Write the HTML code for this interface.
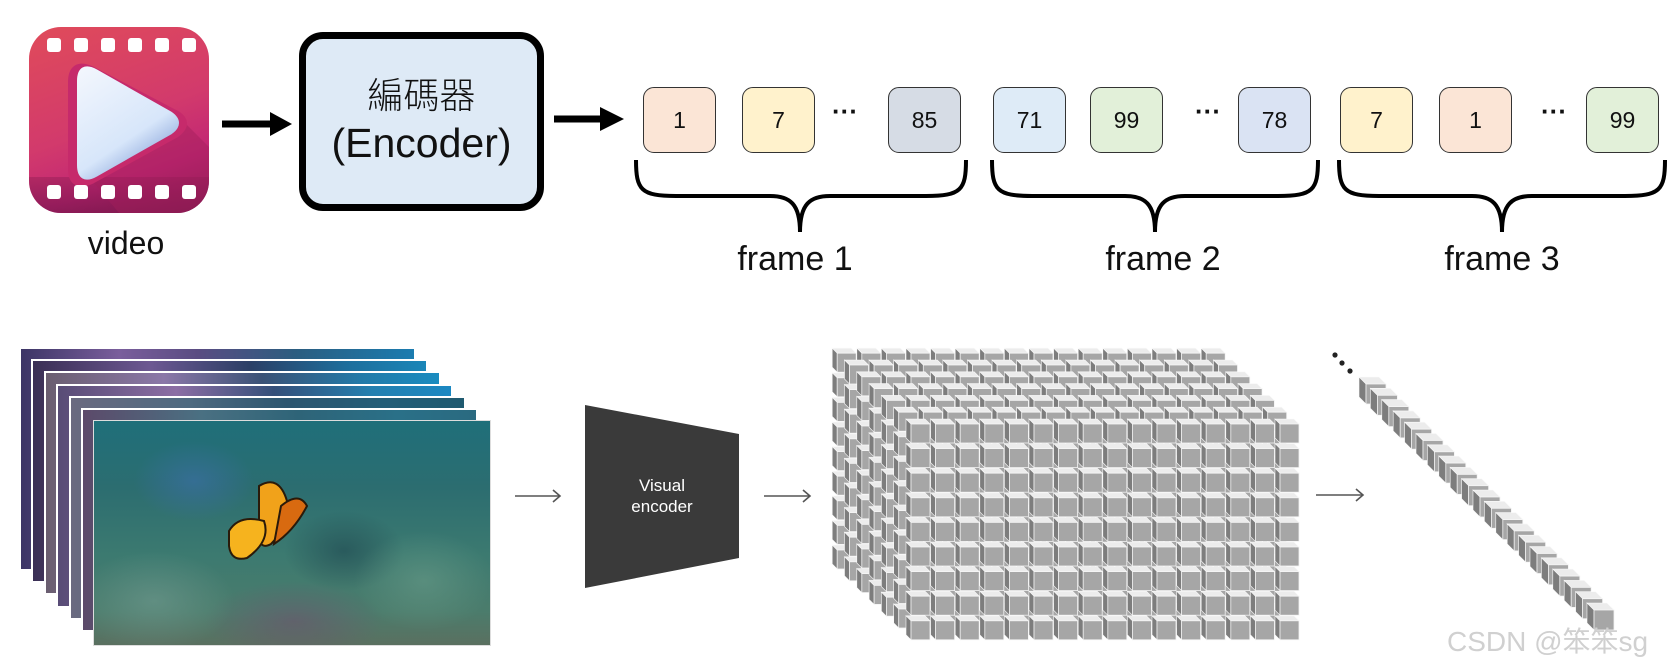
<!DOCTYPE html>
<html><head><meta charset="utf-8">
<style>
html,body{margin:0;padding:0;background:#fff;}
body{width:1669px;height:667px;position:relative;overflow:hidden;font-family:"Liberation Sans","Noto Sans CJK TC",sans-serif;}
.abs{position:absolute;}
.tok{position:absolute;top:87px;width:73px;height:66px;border:1.5px solid #333;border-radius:11px;box-sizing:border-box;font-size:23px;text-align:center;line-height:64px;color:#111;}
.dots{position:absolute;top:96px;font-size:26px;font-weight:bold;color:#111;}
.lbl{position:absolute;top:240px;font-size:34px;color:#111;width:200px;text-align:center;}
.fr{position:absolute;width:397px;height:224px;border:2px solid #fff;box-sizing:border-box;}
</style></head><body>

<div class="abs" style="left:29px;top:27px;width:180px;height:186px;border-radius:32px;overflow:hidden;background:linear-gradient(160deg,#e04b5a 0%,#d23a6c 50%,#c12674 75%,#8b1b55 100%);">
  <div class="abs" style="left:0;top:150px;width:180px;height:36px;background:linear-gradient(180deg,rgba(120,20,70,0.3),rgba(110,20,70,0.6));"></div>
  <svg class="abs" style="left:0;top:0" width="180" height="186">
    <path d="M60 45 L150 90 L180 120 L180 186 L90 186 L60 150 Z" fill="#a11f5c" opacity="0.45"/>
    <path d="M44 55 Q44 36 62 44 L146 88 Q160 96 146 106 L62 152 Q44 160 44 142 Z" fill="#c62a6b" stroke="#c62a6b" stroke-width="10" stroke-linejoin="round"/>
    <defs><linearGradient id="pg" x1="0" y1="0" x2="0.6" y2="1"><stop offset="0" stop-color="#f2f6fd"/><stop offset="0.7" stop-color="#d7e6fa"/><stop offset="1" stop-color="#8ea8dc"/></linearGradient></defs>
    <path d="M52 54 Q52 38 66 46 L140 88 Q152 96 140 104 L66 146 Q52 154 52 138 Z" fill="url(#pg)" stroke="url(#pg)" stroke-width="8" stroke-linejoin="round"/>
  </svg>
  <div class="abs" style="left:18px;top:11px;width:14px;height:14px;background:#fff;border-radius:3px;box-shadow:27px 0 #fff,54px 0 #fff,81px 0 #fff,108px 0 #fff,135px 0 #fff;"></div>
  <div class="abs" style="left:18px;top:158px;width:14px;height:14px;background:#fff;border-radius:3px;box-shadow:27px 0 #fff,54px 0 #fff,81px 0 #fff,108px 0 #fff,135px 0 #fff;"></div>
</div>
<div class="abs" style="left:60px;top:225px;width:132px;text-align:center;font-size:32px;color:#111;">video</div>

<div class="abs" style="left:299px;top:32px;width:245px;height:179px;border:7px solid #000;border-radius:24px;background:#deeaf6;box-sizing:border-box;text-align:center;color:#111;">
  <div style="font-size:36px;margin-top:34px;line-height:40px;font-family:'Noto Sans CJK TC',sans-serif;font-weight:300;">編碼器</div>
  <div style="font-size:41px;line-height:48px;margin-top:6px;">(Encoder)</div>
</div>

<svg class="abs" style="left:0;top:0" width="1669" height="300">
  <line x1="222" y1="124" x2="274" y2="124" stroke="#000" stroke-width="7"/>
  <polygon points="270,112 292,124 270,136" fill="#000"/>
  <line x1="554" y1="119" x2="604" y2="119" stroke="#000" stroke-width="7"/>
  <polygon points="600,107 624,119 600,131" fill="#000"/>
  <g fill="none" stroke="#000" stroke-width="4">
    <path d="M636 160 C636 190 641 196 676 196 L770 196 C790 196 800 204 800 232 C800 204 810 196 830 196 L926 196 C961 196 966 190 966 160"/>
    <path d="M992 160 C992 190 997 196 1032 196 L1125 196 C1145 196 1155 204 1155 232 C1155 204 1165 196 1185 196 L1278 196 C1313 196 1318 190 1318 160"/>
    <path d="M1339 160 C1339 190 1344 196 1379 196 L1472 196 C1492 196 1502 204 1502 232 C1502 204 1512 196 1532 196 L1625 196 C1660 196 1665 190 1665 160"/>
  </g>
</svg>

<div class="tok" style="left:643px;background:#fbe5d6">1</div>
<div class="tok" style="left:742px;background:#fff2cc">7</div>
<div class="dots" style="left:832px">···</div>
<div class="tok" style="left:888px;background:#d6dce5">85</div>
<div class="tok" style="left:993px;background:#deebf7">71</div>
<div class="tok" style="left:1090px;background:#e2f0d9">99</div>
<div class="dots" style="left:1195px">···</div>
<div class="tok" style="left:1238px;background:#dae3f3">78</div>
<div class="tok" style="left:1340px;background:#fff2cc">7</div>
<div class="tok" style="left:1439px;background:#fbe5d6">1</div>
<div class="dots" style="left:1541px">···</div>
<div class="tok" style="left:1586px;background:#e2f0d9">99</div>

<div class="lbl" style="left:695px">frame 1</div>
<div class="lbl" style="left:1063px">frame 2</div>
<div class="lbl" style="left:1402px">frame 3</div>

<div class="fr" style="left:19px;top:347px;background:linear-gradient(90deg,#3c3566 0%,#7a5e9c 25%,#5a4c82 45%,#2b5d80 70%,#1b7cb0 100%);"></div>
<div class="fr" style="left:31px;top:359px;background:linear-gradient(90deg,#3a2f55 0%,#6d5892 30%,#2b3f66 55%,#1d6e9c 80%,#1a86b8 100%);"></div>
<div class="fr" style="left:44px;top:371px;background:linear-gradient(90deg,#6a5e70 0%,#8b77a8 30%,#3b5276 55%,#227aa8 80%,#1a8cc0 100%);"></div>
<div class="fr" style="left:56px;top:384px;background:linear-gradient(90deg,#584c76 0%,#8c6ea4 30%,#35507a 55%,#2480b0 80%,#1b88c2 100%);"></div>
<div class="fr" style="left:69px;top:396px;background:linear-gradient(90deg,#6a6a80 0%,#4e6a80 30%,#2d5670 55%,#245e78 80%,#1f5a70 100%);"></div>
<div class="fr" style="left:81px;top:408px;background:linear-gradient(90deg,#5c4a6a 0%,#4a7082 30%,#2e6478 55%,#2a7088 80%,#2a6a80 100%);"></div>
<div class="fr" style="left:93px;top:420px;width:398px;height:226px;border:1px solid #ddd;background:
 radial-gradient(ellipse 60px 40px at 100px 60px,rgba(60,110,170,0.6),transparent),
 radial-gradient(ellipse 80px 50px at 60px 180px,rgba(120,160,150,0.5),transparent),
 radial-gradient(ellipse 90px 40px at 200px 200px,rgba(110,80,110,0.55),transparent),
 radial-gradient(ellipse 70px 50px at 330px 160px,rgba(110,160,140,0.5),transparent),
 radial-gradient(ellipse 60px 40px at 250px 130px,rgba(30,70,80,0.6),transparent),
 linear-gradient(180deg,#1f6f7a 0%,#2c6d70 30%,#3c7a70 60%,#4b7c6c 85%,#5a7060 100%);">
  <svg class="abs" style="left:125px;top:45px" width="110" height="110">
    <path d="M40 20 Q60 8 68 35 Q70 60 52 78 Q38 86 40 60 Z" fill="#f1a21a" stroke="#2a1a0a" stroke-width="2"/>
    <path d="M10 65 Q20 48 45 55 Q52 75 28 92 Q12 96 10 80 Z" fill="#f6b31e" stroke="#2a1a0a" stroke-width="2"/>
    <path d="M62 40 Q80 25 88 40 Q75 65 55 78 Z" fill="#d86a10" stroke="#2a1a0a" stroke-width="2"/>
  </svg>
</div>

<svg class="abs" style="left:0;top:300px" width="1669" height="367">
  <g stroke="#555" stroke-width="1.6" fill="none">
    <line x1="515" y1="196" x2="560" y2="196"/><path d="M553 190 L560 196 L553 202"/>
    <line x1="764" y1="196" x2="810" y2="196"/><path d="M803 190 L810 196 L803 202"/>
    <line x1="1316" y1="195" x2="1363" y2="195"/><path d="M1356 189 L1363 195 L1356 201"/>
  </g>
  <polygon points="585,105 739,134 739,258 585,288" fill="#3a3a3a"/>
  <text x="662" y="191" font-size="17" fill="#fff" text-anchor="middle" font-family="Liberation Sans,sans-serif">Visual</text>
  <text x="662" y="212" font-size="17" fill="#fff" text-anchor="middle" font-family="Liberation Sans,sans-serif">encoder</text>
  <g id="cube"></g>
  <g id="diag"></g>
  <circle cx="1335" cy="55" r="2.6" fill="#222"/>
  <circle cx="1342" cy="63" r="2.6" fill="#222"/>
  <circle cx="1350" cy="71" r="2.6" fill="#222"/>
</svg>

<div class="abs" style="left:1447px;top:620px;font-size:28px;color:#d0d0d0;font-family:'Liberation Sans','Noto Sans CJK SC',sans-serif;">CSDN @笨笨sg</div>

<script>
(function(){
  function cube(x,y,s,d){
    var h='';
    h+='<polygon points="'+x+','+y+' '+(x+s)+','+y+' '+(x+s-d)+','+(y-d)+' '+(x-d)+','+(y-d)+'" fill="#ececec" stroke="#fafafa" stroke-width="0.6"/>';
    h+='<polygon points="'+x+','+y+' '+(x-d)+','+(y-d)+' '+(x-d)+','+(y+s-d)+' '+x+','+(y+s)+'" fill="#7d7d7d" stroke="#fafafa" stroke-width="0.6"/>';
    h+='<rect x="'+x+'" y="'+y+'" width="'+s+'" height="'+s+'" fill="#a6a6a6" stroke="#f4f4f4" stroke-width="0.8"/>';
    return h;
  }
  var out='';
  var L=7, R=9, C=16, step=24.6, s=19, d=5;
  for(var l=L-1;l>=0;l--){
    var ox=911-l*12.3, oy=124-l*11.8;
    for(var r=0;r<R;r++) for(var c=0;c<C;c++){
      out+=cube(+(ox+c*step).toFixed(1),+(oy+r*step).toFixed(1),s,d);
    }
  }
  document.getElementById('cube').innerHTML=out;
  var o2='';
  for(var i=0;i<21;i++){
    o2+=cube(+(1366+i*11.4).toFixed(1),+(84+i*11.3).toFixed(1),20,7);
  }
  document.getElementById('diag').innerHTML=o2;
})();
</script>
</body></html>
